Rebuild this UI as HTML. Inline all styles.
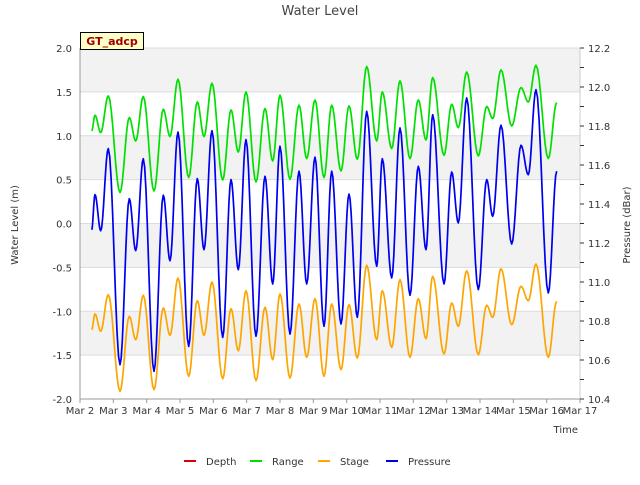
<!DOCTYPE html>
<html><head><meta charset="utf-8"><style>
body{margin:0;background:#fff;font-family:"Liberation Sans",sans-serif;}
svg text{font-family:"DejaVu Sans","Liberation Sans",sans-serif;}
</style></head><body>
<svg id="chart" width="640" height="480">
<rect x="0" y="0" width="640" height="480" fill="#fff"/>
<g id="bands"></g><g id="grid"></g><g id="axes"></g><g id="series"></g>
<text x="320" y="15" text-anchor="middle" font-size="13" fill="#444">Water Level</text>
<text x="18" y="225" text-anchor="middle" font-size="10" fill="#333" transform="rotate(-90 18 225)">Water Level (m)</text>
<text x="630" y="225" text-anchor="middle" font-size="10" fill="#333" transform="rotate(-90 630 225)">Pressure (dBar)</text>
<text x="578" y="433" text-anchor="end" font-size="10" fill="#333">Time</text>
<g>
<rect x="80.5" y="32.5" width="63" height="17" fill="#ffffc8" stroke="#000" stroke-width="1"/>
<text x="112" y="45" text-anchor="middle" font-size="11" font-weight="bold" fill="#a00000">GT_adcp</text>
</g>
<g id="legend"></g>
</svg>
<script>
const times=[2.351,2.45,2.621,2.849,3.2,3.479,3.671,3.899,4.22,4.499,4.7,4.94,5.261,5.519,5.72,5.96,6.281,6.53,6.749,6.98,7.28,7.55,7.781,8.0,8.3,8.57,8.801,9.05,9.32,9.551,9.83,10.07,10.319,10.601,10.901,11.069,11.351,11.6,11.9,12.149,12.38,12.581,12.92,13.151,13.349,13.601,13.949,14.201,14.381,14.63,14.951,15.23,15.449,15.68,16.049,16.301];
const pressure=[11.268,11.448,11.263,11.684,10.576,11.427,11.161,11.632,10.542,11.445,11.109,11.769,10.670,11.530,11.166,11.776,10.716,11.525,11.063,11.730,10.722,11.542,10.990,11.696,10.733,11.568,10.990,11.640,10.773,11.568,10.785,11.451,10.819,11.875,11.081,11.632,11.021,11.790,10.932,11.593,11.166,11.858,10.990,11.564,11.303,11.944,10.961,11.525,11.337,11.804,11.195,11.701,11.550,11.986,10.944,11.568];
const stage=[-1.210,-1.031,-1.228,-0.811,-1.912,-1.058,-1.324,-0.818,-1.894,-0.963,-1.274,-0.621,-1.741,-0.880,-1.274,-0.667,-1.769,-0.971,-1.450,-0.766,-1.791,-0.955,-1.552,-0.803,-1.761,-0.917,-1.525,-0.857,-1.741,-0.917,-1.666,-0.925,-1.533,-0.476,-1.324,-0.766,-1.411,-0.640,-1.525,-0.857,-1.313,-0.602,-1.487,-0.906,-1.172,-0.538,-1.495,-0.932,-1.069,-0.515,-1.153,-0.716,-0.880,-0.462,-1.525,-0.887];
const range=[1.055,1.234,1.037,1.454,0.353,1.207,0.941,1.447,0.371,1.302,0.991,1.644,0.524,1.385,0.991,1.598,0.496,1.294,0.815,1.499,0.474,1.310,0.713,1.462,0.504,1.348,0.740,1.408,0.524,1.348,0.599,1.340,0.732,1.789,0.941,1.499,0.854,1.625,0.740,1.408,0.952,1.663,0.778,1.359,1.093,1.727,0.770,1.333,1.196,1.750,1.112,1.549,1.385,1.803,0.740,1.378];
const depth=[];
const xTicks=["Mar 2","Mar 3","Mar 4","Mar 5","Mar 6","Mar 7","Mar 8","Mar 9","Mar 10","Mar 11","Mar 12","Mar 13","Mar 14","Mar 15","Mar 16","Mar 17"];
const yTicks=[-2.0,-1.5,-1.0,-0.5,0.0,0.5,1.0,1.5,2.0];
const y2Ticks=[10.4,10.6,10.8,11.0,11.2,11.4,11.6,11.8,12.0,12.2];

const L=80,R=580,T=48,B=399,NS="http://www.w3.org/2000/svg";
const X=d=>L+(d-2)*(R-L)/15;
const Y=v=>B-(v+2)*(B-T)/4;
const Y2=v=>B-(v-10.4)*(B-T)/1.8;
function mk(tag,attrs,parent){const e=document.createElementNS(NS,tag);for(const k in attrs)e.setAttribute(k,attrs[k]);parent.appendChild(e);return e;}
const bands=document.getElementById('bands'),grid=document.getElementById('grid'),axes=document.getElementById('axes'),series=document.getElementById('series'),legend=document.getElementById('legend');
mk('rect',{x:L,y:T,width:R-L,height:B-T,fill:'#fff'},bands);
[[1.5,2.0],[0.5,1.0],[-0.5,0],[-1.5,-1.0]].forEach(b=>{
 const r=mk('rect',{x:L,y:Y(b[1]),width:R-L,height:Y(b[0])-Y(b[1]),fill:'#f2f2f2'},bands);
 
 
});
yTicks.forEach(v=>{
 const l=mk('line',{x1:L,x2:R,y1:Y(v),y2:Y(v),stroke:'#dcdcdc','stroke-width':1},grid);
 
 
 const t=mk('text',{x:L-8,y:Y(v)+4,'text-anchor':'end','font-size':10,fill:'#333'},axes);
 t.textContent=v.toFixed(1);
 
 
});
mk('line',{x1:L,x2:L,y1:T,y2:B,stroke:'#999'},axes);
mk('line',{x1:L,x2:R,y1:B,y2:B,stroke:'#999'},axes);
mk('line',{x1:R,x2:R,y1:T,y2:B,stroke:'#ccc'},axes);
xTicks.forEach((s,i)=>{
 mk('line',{x1:X(2+i),x2:X(2+i),y1:B,y2:B+4,stroke:'#999'},axes);
 const t=mk('text',{x:X(2+i),y:B+15,'text-anchor':'middle','font-size':10,fill:'#333'},axes);
 t.textContent=s;
 
 
});
for(let k=0;k<=18;k++){const v=10.4+k*0.1;mk('line',{x1:R,x2:R+4,y1:Y2(v),y2:Y2(v),stroke:'#333'},axes);}
y2Ticks.forEach(v=>{
 const t=mk('text',{x:R+8,y:Y2(v)+4,'font-size':10,fill:'#333'},axes);
 t.textContent=v.toFixed(1);
 
 
});
function path(vals,yf,color,name){
 let d='';
 for(let i=0;i<vals.length-1;i++){
  const t0=times[i],t1=times[i+1],v0=vals[i],v1=vals[i+1];
  for(let s=0;s<=8;s++){
   if(i>0&&s===0)continue;
   const f=s/8,w=(1-Math.cos(Math.PI*f))/2;
   d+=(d?'L':'M')+X(t0+(t1-t0)*f).toFixed(2)+','+yf(v0+(v1-v0)*w).toFixed(2);
  }
 }
 const p=mk('path',{d:d,fill:'none',stroke:color,'stroke-width':1.7,'stroke-linejoin':'round'},series);
 
 
}
path(range,Y,'#00e000','range-line');
path(stage,Y,'#ffa500','stage-line');
path(pressure,Y2,'#0000f0','pressure-line');
[['Depth','#dd0000',190],['Range','#00dd00',256],['Stage','#ffa500',324],['Pressure','#0000dd',392]].forEach(e=>{
 const g=mk('g',{},legend);
 
 
 mk('line',{x1:e[2]-6,x2:e[2]+6,y1:461,y2:461,stroke:e[1],'stroke-width':2},g);
 const t=mk('text',{x:e[2]+16,y:465,'font-size':10,fill:'#333'},g);
 t.textContent=e[0];
});
</script>
</body></html>
